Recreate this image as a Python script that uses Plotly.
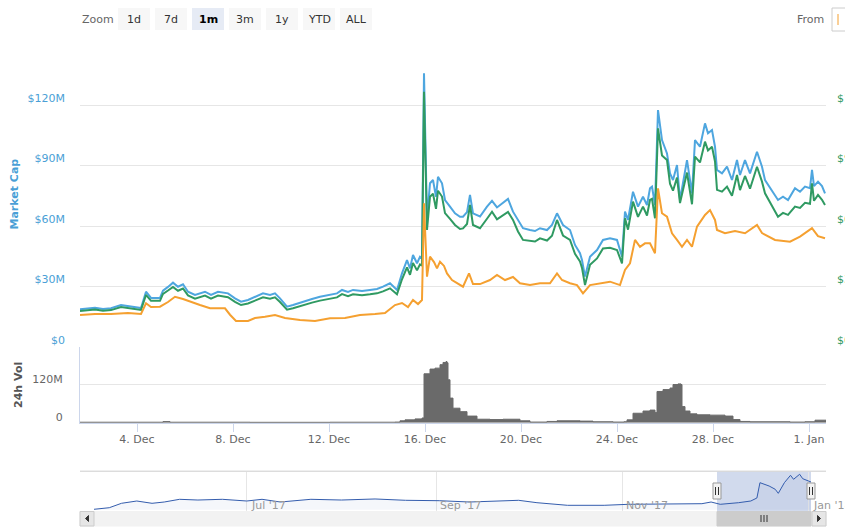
import pandas as pd
import plotly.graph_objects as go

# ---------------- data ----------------
BASE = pd.Timestamp("2017-12-01 00:00")

# hours after 2017-12-01 00:00 (market cap + USD price)
hours = [15, 23, 30, 38, 46, 56, 63, 70, 76, 81,
         86, 95, 98, 103, 108, 113, 118, 123, 130, 140,
         146, 153, 163, 170, 176, 183, 190, 198, 205, 210,
         215, 222, 228, 238, 247, 255, 265, 272, 277, 283,
         288, 297, 305, 312, 318, 325, 332, 337, 342, 345,
         348, 352, 355, 357, 359, 362, 365, 368, 371, 373,
         377, 380, 385, 390, 395, 398, 402, 405, 408, 415,
         422, 427, 432, 438, 443, 448, 453, 458, 465, 470,
         475, 482, 487, 492, 498, 505, 510, 515, 517, 520,
         525, 532, 538, 545, 552, 557, 560, 563, 568, 573,
         578, 582, 585, 587, 590, 593, 597, 602, 605, 608,
         612, 615, 622, 627, 630, 635, 640, 643, 647, 650,
         652, 657, 662, 667, 672, 675, 680, 685, 692, 697,
         700, 708, 713, 718, 723, 730, 735, 740, 745, 747,
         749, 753, 757, 760]

market_cap_m = [18.7, 19.3, 19.5, 18.8, 19.2, 20.8, 20.3, 20.0, 19.3, 27.4,
                24.3, 24.3, 27.9, 29.8, 31.9, 29.9, 31.1, 27.4, 25.8, 27.4,
                25.8, 27.4, 26.6, 24.1, 22.5, 23.3, 24.9, 26.6, 25.8, 26.6,
                24.1, 20.0, 20.8, 22.5, 23.8, 24.9, 25.8, 26.6, 28.3, 27.3,
                28.3, 27.8, 28.3, 28.8, 29.9, 31.6, 28.3, 36.5, 43.1, 39.0,
                45.6, 41.5, 44.8, 44.1, 135.7, 63.0, 81.2, 82.8, 74.5, 84.4,
                81.2, 72.9, 69.6, 66.3, 64.6, 64.6, 66.9, 75.4, 66.3, 64.7,
                69.6, 72.5, 69.2, 71.3, 73.4, 67.1, 63.0, 58.9, 58.0, 57.5,
                58.9, 58.0, 60.5, 66.3, 60.5, 58.0, 50.6, 46.5, 43.1, 34.9,
                44.8, 48.1, 53.1, 53.9, 53.1, 44.8, 67.1, 63.0, 77.0, 69.6,
                74.5, 70.4, 78.7, 79.5, 70.4, 117.5, 102.6, 96.0, 86.1, 82.8,
                90.2, 72.9, 92.7, 76.2, 102.6, 99.3, 110.9, 106.0, 107.6, 99.3,
                87.8, 86.1, 89.4, 82.8, 92.7, 85.3, 92.7, 86.1, 96.8, 89.4,
                82.8, 77.0, 72.9, 74.5, 72.9, 78.7, 77.0, 79.5, 78.7, 87.8,
                79.8, 82.0, 79.8, 76.2]

price_usd = [1.79, 1.84, 1.86, 1.80, 1.83, 1.98, 1.93, 1.90, 1.84, 2.58,
             2.29, 2.29, 2.63, 2.80, 2.98, 2.79, 2.90, 2.56, 2.40, 2.55,
             2.40, 2.55, 2.47, 2.24, 2.08, 2.16, 2.31, 2.46, 2.39, 2.46,
             2.23, 1.85, 1.92, 2.08, 2.20, 2.30, 2.39, 2.46, 2.62, 2.52,
             2.61, 2.57, 2.61, 2.66, 2.76, 2.91, 2.61, 3.36, 3.95, 3.58,
             4.17, 3.80, 4.10, 4.04, 12.66, 5.80, 7.45, 7.60, 6.85, 7.75,
             7.46, 6.64, 6.35, 6.05, 5.85, 5.88, 6.10, 7.04, 6.05, 5.89,
             6.36, 6.71, 6.33, 6.53, 6.70, 6.30, 5.73, 5.31, 5.28, 5.23,
             5.39, 5.28, 5.52, 6.30, 5.53, 5.31, 4.62, 4.24, 3.92, 3.07,
             4.08, 4.39, 4.89, 4.92, 4.81, 4.15, 6.38, 5.82, 7.21, 6.45,
             6.96, 6.52, 7.29, 7.35, 6.38, 10.84, 9.50, 9.27, 8.10, 7.75,
             8.40, 7.14, 8.65, 7.08, 9.44, 9.15, 10.18, 9.75, 9.93, 9.20,
             7.79, 7.70, 7.95, 7.50, 8.53, 7.78, 8.48, 7.85, 8.94, 8.20,
             7.62, 6.95, 6.46, 6.65, 6.55, 6.96, 6.90, 7.15, 7.10, 8.12,
             7.25, 7.54, 7.30, 7.04]

# price in BTC (own hidden scale)
btc_hours = [15, 30, 46, 63, 76, 81, 86, 95, 103, 110,
             118, 125, 135, 145, 160, 165, 171, 183, 190, 200,
             210, 220, 235, 250, 265, 280, 295, 310, 320, 330,
             337, 343, 348, 353, 357, 359, 362, 365, 369, 372,
             375, 379, 382, 387, 390, 398, 404, 408, 415, 425,
             432, 440, 448, 455, 465, 475, 485, 492, 497, 505,
             512, 518, 525, 535, 545, 555, 560, 565, 570, 575,
             580, 585, 590, 593, 597, 602, 607, 612, 617, 622,
             627, 632, 640, 645, 650, 652, 660, 670, 680, 692,
             697, 710, 725, 735, 747, 753, 760]
price_btc = [15.9, 16.4, 16.4, 16.9, 16.4, 21.7, 19.8, 20.0, 22.3, 24.9,
             23.8, 22.5, 20.8, 19.2, 19.2, 16.0, 12.9, 12.9, 14.4, 15.0,
             15.9, 14.4, 13.4, 12.9, 14.2, 14.4, 15.9, 16.4, 16.9, 20.8,
             21.8, 19.8, 23.3, 21.3, 23.3, 71.3, 34.9, 44.8, 42.1, 39.0,
             42.3, 40.2, 36.5, 33.2, 32.4, 29.9, 36.5, 31.2, 31.2, 33.2,
             35.7, 33.2, 34.7, 31.6, 30.7, 31.6, 31.6, 36.5, 33.2, 31.6,
             30.7, 26.6, 30.7, 31.6, 32.4, 30.7, 38.2, 41.5, 53.1, 49.7,
             51.4, 51.4, 46.5, 78.7, 66.3, 64.6, 56.4, 53.1, 49.7, 53.1,
             49.7, 59.7, 65.5, 67.9, 63.0, 58.0, 56.4, 57.5, 56.4, 60.5,
             56.5, 53.1, 52.2, 54.7, 58.9, 55.0, 53.9]

# 24h volume (millions USD)
vol_hours = [15, 85, 95, 98, 105, 185, 265, 330, 335, 340,
             350, 357, 359, 365, 370, 375, 378, 381, 382, 383,
             385, 388, 395, 402, 412, 425, 438, 455, 465, 482,
             492, 515, 528, 548, 559, 562, 568, 578, 585, 590,
             592, 598, 605, 608, 613, 616, 617, 620, 625, 632,
             645, 660, 668, 675, 685, 725, 740, 750, 761]
volume_m = [1.5, 1.5, 1.5, 3.5, 1.5, 1.2, 1.5, 2, 6, 9,
            12, 15, 155, 170, 173, 184, 191, 194, 190, 136,
            78, 46, 35, 21, 11, 10, 11, 6, 2, 4,
            6, 5, 3, 2, 3, 9, 30, 37, 40, 32,
            99, 105, 110, 121, 123, 121, 51, 37, 28, 25,
            24, 21, 10, 4, 3, 2, 3, 8, 7]

# navigator (market cap, millions USD)
nav_dates = ["2017-05-12", "2017-05-17", "2017-05-21", "2017-05-26", "2017-05-31",
             "2017-06-04", "2017-06-09", "2017-06-15", "2017-06-23", "2017-06-28",
             "2017-07-01", "2017-07-06", "2017-07-12", "2017-07-22", "2017-08-01",
             "2017-08-12", "2017-08-22", "2017-09-02", "2017-09-12", "2017-09-28",
             "2017-10-04", "2017-10-14", "2017-10-26", "2017-11-03", "2017-11-18",
             "2017-11-27", "2017-11-30", "2017-12-03", "2017-12-09", "2017-12-13",
             "2017-12-15", "2017-12-16", "2017-12-19", "2017-12-21", "2017-12-22",
             "2017-12-24", "2017-12-26", "2017-12-27", "2017-12-29", "2017-12-30",
             "2018-01-01T17:00"]
nav_cap_m = [1.3, 6.2, 19.9, 27.0, 19.9, 23.9, 32.3, 30.1, 32.3, 29.2,
             27.0, 32.3, 23.9, 32.3, 30.1, 33.3, 29.2, 28.0, 23.9, 29.2,
             21.8, 13.7, 13.7, 16.8, 16.8, 18.7, 23.9, 16.8, 21.8, 27.0,
             36.4, 83.9, 73.6, 63.4, 50.9, 83.9, 106.8, 94.4, 110.0, 96.3,
             86.0]

x_tick_dates = ["2017-12-04", "2017-12-08", "2017-12-12", "2017-12-16",
                "2017-12-20", "2017-12-24", "2017-12-28", "2018-01-01"]
x_tick_text = ["4. Dec", "8. Dec", "12. Dec", "16. Dec", "20. Dec", "24. Dec", "28. Dec", "1. Jan"]
cap_ticks = [0, 30, 60, 90, 120]
cap_tick_text = ["$0", "$30M", "$60M", "$90M", "$120M"]
usd_ticks = [0, 3, 6, 9, 12]
usd_tick_text = ["$0.00", "$3.00", "$6.00", "$9.00", "$12.00"]
vol_ticks = [0, 120, 240]
vol_tick_text = ["0", "120M", ""]
nav_label_dates = ["2017-07-01", "2017-09-01", "2017-11-01", "2018-01-01"]
nav_label_text = ["Jul '17", "Sep '17", "Nov '17", "Jan '18"]
zoom_buttons = ["1d", "7d", "1m", "3m", "1y", "YTD", "ALL"]
selected_button = "1m"

# ---------------- layout helpers ----------------
W, H = 845, 529
L, R, T, B = 80, 19, 40, 3
PW, PH = W - L - R, H - T - B


def px(x):
    return (x - L) / PW


def py(y):
    return (H - B - y) / PH


FONT = "DejaVu Sans"
BLUE = "#4ea6df"
GREEN = "#2f9a62"
ORANGE = "#f5a030"
GRID = "#e6e6e6"

t_main = [BASE + pd.Timedelta(hours=h) for h in hours]
t_btc = [BASE + pd.Timedelta(hours=h) for h in btc_hours]
t_vol = [BASE + pd.Timedelta(hours=h) for h in vol_hours]
x_range = [BASE + pd.Timedelta(hours=15), BASE + pd.Timedelta(hours=761)]
nav_range = [pd.Timestamp("2017-05-12"), pd.Timestamp("2018-01-01 17:00")]

fig = go.Figure()
fig.add_trace(go.Scatter(x=t_main, y=market_cap_m, mode="lines", line=dict(color=BLUE, width=2),
                         xaxis="x", yaxis="y", hoverinfo="skip"))
fig.add_trace(go.Scatter(x=t_main, y=price_usd, mode="lines", line=dict(color=GREEN, width=2),
                         xaxis="x", yaxis="y2", hoverinfo="skip"))
fig.add_trace(go.Scatter(x=t_btc, y=price_btc, mode="lines", line=dict(color=ORANGE, width=2),
                         xaxis="x", yaxis="y3", hoverinfo="skip"))
fig.add_trace(go.Scatter(x=t_vol, y=volume_m, mode="lines", line=dict(color="#6a6a6a", width=1, shape="hv"),
                         fill="tozeroy", fillcolor="#6a6a6a", xaxis="x", yaxis="y4", hoverinfo="skip"))
fig.add_trace(go.Scatter(x=pd.to_datetime(nav_dates, format="ISO8601"), y=nav_cap_m, mode="lines",
                         line=dict(color="#335cad", width=1), fill="tozeroy",
                         fillcolor="rgba(51,92,173,0.05)", xaxis="x2", yaxis="y5", hoverinfo="skip"))

main_dom = [py(347), py(41)]
vol_dom = [py(422.7), py(347)]
nav_dom = [py(511), py(471.7)]
lab_font = dict(family=FONT, size=11, color="#666666")

fig.update_layout(
    template="none",
    width=W, height=H,
    margin=dict(l=L, r=R, t=T, b=B, pad=0),
    paper_bgcolor="white", plot_bgcolor="rgba(0,0,0,0)",
    showlegend=False,
    font=dict(family=FONT, size=11, color="#666666"),
    xaxis=dict(domain=[0, 1], anchor="y4", type="date", range=x_range,
               tickvals=pd.to_datetime(x_tick_dates), ticktext=x_tick_text,
               ticks="outside", ticklen=8, tickcolor="#ccd6eb", showline=True,
               linecolor="#ccd6eb", linewidth=1, showgrid=False, zeroline=False,
               ticklabelstandoff=-2, tickfont=lab_font, automargin=False),
    yaxis=dict(domain=main_dom, range=[0, 306 / 2.0167], tickvals=cap_ticks, ticktext=cap_tick_text,
               showgrid=True, gridcolor=GRID, gridwidth=1, zeroline=False, showline=False,
               ticks="", ticklabelstandoff=14, ticklabelshift=-7,
               tickfont=dict(family=FONT, size=11, color="#4a9fd6"), automargin=False),
    yaxis2=dict(overlaying="y", side="right", anchor="x", range=[0, 30.6 / 2.0167],
                tickvals=usd_ticks, ticktext=usd_tick_text, showgrid=False, zeroline=False,
                ticks="", ticklabelstandoff=10, ticklabelshift=-7,
                tickfont=dict(family=FONT, size=11, color=GREEN), automargin=False),
    yaxis3=dict(overlaying="y", side="left", anchor="x", range=[0, 306 / 2.0167],
                visible=False, showgrid=False, zeroline=False),
    yaxis4=dict(domain=vol_dom, anchor="x", range=[0, 240], tickvals=vol_ticks, ticktext=vol_tick_text,
                showgrid=True, gridcolor=GRID, zeroline=False, showline=True, linecolor="#ccd6eb",
                ticks="", ticklabelstandoff=14, ticklabelshift=-6, tickfont=lab_font, automargin=False),
    xaxis2=dict(domain=[px(94), px(811)], anchor="y5", type="date", range=nav_range,
                tickvals=pd.to_datetime(nav_label_dates), showticklabels=False, ticks="",
                showgrid=True, gridcolor=GRID, zeroline=False, showline=False, automargin=False),
    yaxis5=dict(domain=nav_dom, anchor="x2", range=[-4, 118], visible=False,
                showgrid=False, zeroline=False),
)

shapes = []
annotations = []

# range selector buttons
annotations.append(dict(text="Zoom", x=px(80), y=py(19), xref="paper", yref="paper",
                        xanchor="left", yanchor="middle", showarrow=False,
                        font=dict(family=FONT, size=11, color="#666666")))
bx = 118
for lab in zoom_buttons:
    sel = lab == selected_button
    shapes.append(dict(type="rect", xref="paper", yref="paper", x0=px(bx), x1=px(bx + 32),
                       y0=py(30), y1=py(8), fillcolor="#e6ebf5" if sel else "#f7f7f7",
                       line=dict(width=0), layer="above"))
    annotations.append(dict(text=f"<b>{lab}</b>" if sel else lab, x=px(bx + 16), y=py(19),
                            xref="paper", yref="paper", xanchor="center", yanchor="middle",
                            showarrow=False, font=dict(family=FONT, size=11, color="#000000" if sel else "#333333")))
    bx += 37

annotations.append(dict(text="From", x=px(826), y=py(19), xref="paper", yref="paper",
                        xanchor="right", yanchor="middle", showarrow=False,
                        font=dict(family=FONT, size=11, color="#666666")))
shapes.append(dict(type="rect", xref="paper", yref="paper", x0=px(832), x1=px(870),
                   y0=py(31), y1=py(8), fillcolor="white", line=dict(color="#cccccc", width=1), layer="above"))
shapes.append(dict(type="line", xref="paper", yref="paper", x0=px(838), x1=px(838),
                   y0=py(25), y1=py(14), line=dict(color=ORANGE, width=1), layer="above"))

# axis titles
annotations.append(dict(text="<b>Market Cap</b>", x=px(13.5), y=py(194), xref="paper", yref="paper",
                        textangle=-90, showarrow=False, xanchor="center", yanchor="middle",
                        font=dict(family=FONT, size=11, color="#4a9fd6")))
annotations.append(dict(text="<b>24h Vol</b>", x=px(18), y=py(385), xref="paper", yref="paper",
                        textangle=-90, showarrow=False, xanchor="center", yanchor="middle",
                        font=dict(family=FONT, size=11, color="#555555")))

# navigator
shapes.append(dict(type="line", xref="paper", yref="paper", x0=px(80), x1=px(826),
                   y0=py(471.2), y1=py(471.2), line=dict(color="#cccccc", width=1), layer="above"))
shapes.append(dict(type="rect", xref="paper", yref="paper", x0=px(717), x1=px(811),
                   y0=py(511), y1=py(471.7), fillcolor="rgba(102,133,194,0.3)",
                   line=dict(width=0), layer="below"))
for hx in (717, 811):
    shapes.append(dict(type="rect", xref="paper", yref="paper", x0=px(hx - 4), x1=px(hx + 4),
                       y0=py(499), y1=py(483), fillcolor="#f2f2f2",
                       line=dict(color="#999999", width=1), layer="above"))
    for dx in (-1.5, 1.5):
        shapes.append(dict(type="line", xref="paper", yref="paper", x0=px(hx + dx), x1=px(hx + dx),
                           y0=py(495), y1=py(487), line=dict(color="#333333", width=1), layer="above"))
for d, lab in zip(nav_label_dates, nav_label_text):
    annotations.append(dict(text=lab, x=pd.Timestamp(d), y=py(505), xref="x2", yref="paper",
                            xanchor="left", yanchor="middle", xshift=2, showarrow=False,
                            font=dict(family=FONT, size=11, color="#999999")))

# scrollbar
shapes.append(dict(type="rect", xref="paper", yref="paper", x0=px(80), x1=px(826),
                   y0=py(526), y1=py(511.5), fillcolor="#f2f2f2", line=dict(color="#f2f2f2", width=1),
                   layer="above"))
shapes.append(dict(type="rect", xref="paper", yref="paper", x0=px(717), x1=px(811),
                   y0=py(526), y1=py(511.5), fillcolor="#cccccc", line=dict(color="#cccccc", width=1),
                   layer="above"))
for dx in (-3, 0, 3):
    shapes.append(dict(type="line", xref="paper", yref="paper", x0=px(764 + dx), x1=px(764 + dx),
                       y0=py(522), y1=py(515), line=dict(color="#333333", width=1), layer="above"))
for x0, x1 in ((80, 94), (812, 826)):
    shapes.append(dict(type="rect", xref="paper", yref="paper", x0=px(x0), x1=px(x1),
                       y0=py(526), y1=py(511.5), fillcolor="#e6e6e6", line=dict(color="#cccccc", width=1),
                       layer="above"))
# arrows
shapes.append(dict(type="path", xref="paper", yref="paper",
                   path=f"M {px(88.5)} {py(515.5)} L {px(85.5)} {py(518.5)} L {px(88.5)} {py(521.5)} Z",
                   fillcolor="#333333", line=dict(color="#333333", width=1), layer="above"))
shapes.append(dict(type="path", xref="paper", yref="paper",
                   path=f"M {px(817.5)} {py(515.5)} L {px(820.5)} {py(518.5)} L {px(817.5)} {py(521.5)} Z",
                   fillcolor="#333333", line=dict(color="#333333", width=1), layer="above"))

fig.update_layout(shapes=shapes, annotations=annotations)
fig.write_html("out.html")
